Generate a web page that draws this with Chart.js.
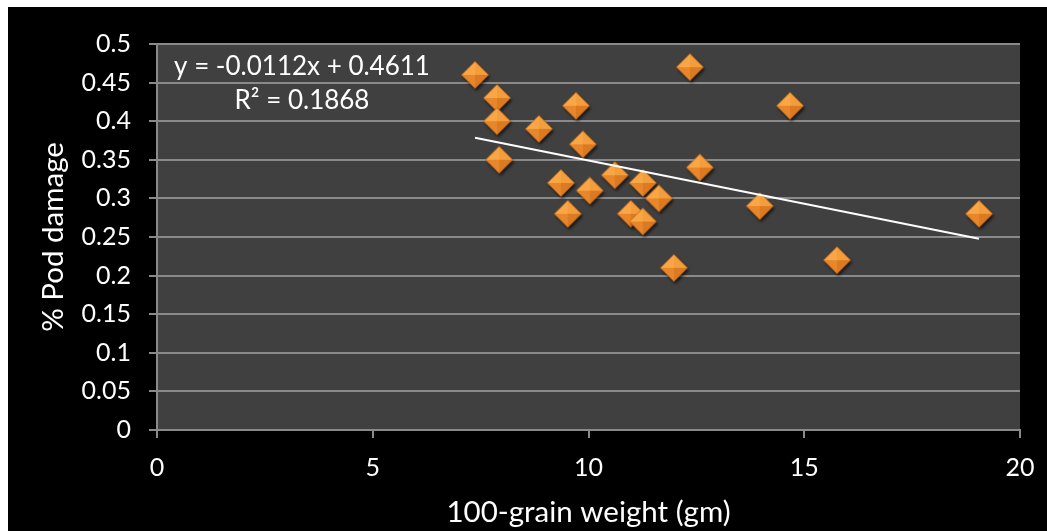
<!DOCTYPE html>
<html>
<head>
<meta charset="utf-8">
<script src="https://cdn.jsdelivr.net/npm/chart.js@4.4.1/dist/chart.umd.min.js"></script>
<style>
  html, body { margin: 0; padding: 0; background: #ffffff; width: 1047px; height: 531px; overflow: hidden; }
  #wrap { position: absolute; left: 8px; top: 7px; width: 1039px; height: 524px; background: #000000; }
  canvas { display: block; }
</style>
</head>
<body>
<div id="wrap"><canvas id="c" width="1039" height="524"></canvas></div>
<script>
// ---- data ----
const grainWeight = [7.37, 7.88, 7.88, 7.93, 8.85, 9.71, 9.87, 9.36, 9.52, 10.03, 10.61,
                     11.26, 10.98, 11.26, 11.63, 11.98, 12.35, 12.58, 13.97, 14.67, 15.76, 19.05];
const podDamage   = [0.46, 0.43, 0.40, 0.35, 0.39, 0.42, 0.37, 0.32, 0.28, 0.31, 0.33,
                     0.32, 0.28, 0.27, 0.30, 0.21, 0.47, 0.34, 0.29, 0.42, 0.22, 0.28];
const trendSlope = -0.0112;
const trendIntercept = 0.4611;
const trendLabels = ['y = -0.0112x + 0.4611', 'R\u00B2 = 0.1868'];
const xTitle = '100-grain weight (gm)';
const yTitle = '% Pod damage';
const yTickLabels = ['0', '0.05', '0.1', '0.15', '0.2', '0.25', '0.3', '0.35', '0.4', '0.45', '0.5'];

const FONT = 'Lato';
const scatterPoints = grainWeight.map((x, i) => ({ x: x, y: podDamage[i] }));
const xMin = Math.min(...grainWeight), xMax = Math.max(...grainWeight);
const trendPoints = [xMin, xMax].map(x => ({ x: x, y: trendSlope * x + trendIntercept }));

function makeMarker() {
  const s = 36, c = document.createElement('canvas');
  c.width = s; c.height = s;
  const g = c.getContext('2d');
  const cx = s / 2, cy = s / 2, r = 13.5;
  function path() {
    g.beginPath();
    g.moveTo(cx, cy - r); g.lineTo(cx + r, cy); g.lineTo(cx, cy + r); g.lineTo(cx - r, cy); g.closePath();
  }
  g.save();
  g.shadowColor = 'rgba(0,0,0,0.65)'; g.shadowBlur = 3; g.shadowOffsetX = 1.5; g.shadowOffsetY = 2.5;
  path(); g.fillStyle = '#d7761f'; g.fill();
  g.restore();
  const facets = [
    [[cx - r, cy], [cx, cy - r], '#f8a646'],
    [[cx, cy - r], [cx + r, cy], '#f49d3c'],
    [[cx + r, cy], [cx, cy + r], '#db7a21'],
    [[cx, cy + r], [cx - r, cy], '#e7862b']
  ];
  facets.forEach(f => {
    g.beginPath(); g.moveTo(cx, cy); g.lineTo(f[0][0], f[0][1]); g.lineTo(f[1][0], f[1][1]); g.closePath();
    g.fillStyle = f[2]; g.fill();
  });
  path(); g.strokeStyle = 'rgba(170,85,15,0.6)'; g.lineWidth = 1; g.stroke();
  return c;
}
const marker = makeMarker();

const bgPlugin = {
  id: 'plotBg',
  beforeDraw(chart) {
    const a = chart.chartArea, ctx = chart.ctx;
    ctx.save(); ctx.fillStyle = '#404040';
    ctx.fillRect(a.left, a.top, a.right - a.left, a.bottom - a.top);
    ctx.restore();
  }
};
const labelPlugin = {
  id: 'trendLabel',
  afterDraw(chart) {
    const a = chart.chartArea, ctx = chart.ctx;
    ctx.save();
    ctx.fillStyle = '#ffffff'; ctx.font = '26px ' + FONT;
    ctx.textAlign = 'center'; ctx.textBaseline = 'middle';
    ctx.fillText(trendLabels[0], a.left + 145, a.top + 23);
    ctx.fillText(trendLabels[1], a.left + 145, a.top + 57);
    ctx.restore();
  }
};

new Chart(document.getElementById('c'), {
  type: 'scatter',
  data: {
    datasets: [
      { type: 'line', data: trendPoints, borderColor: '#ffffff', borderWidth: 2, pointRadius: 0, fill: false, order: 0 },
      { data: scatterPoints, pointStyle: marker, pointRadius: 14, order: 1 }
    ]
  },
  options: {
    responsive: false, animation: false, devicePixelRatio: 1,
    layout: { padding: { top: 37, right: 27, left: 0, bottom: 0 } },
    plugins: { legend: { display: false }, tooltip: { enabled: false } },
    scales: {
      x: {
        type: 'linear', min: 0, max: 20,
        afterFit(s) { s.height = 101; s.paddingLeft = 0; s.paddingRight = 0; },
        ticks: { stepSize: 5, color: '#ffffff', font: { family: FONT, size: 25 }, padding: 15 },
        grid: { drawOnChartArea: false, drawTicks: true, tickLength: 8, color: '#8a8a8a', lineWidth: 2 },
        border: { color: '#8a8a8a', width: 2 },
        title: { display: true, text: xTitle, color: '#ffffff', font: { family: FONT, size: 29.5 }, padding: { top: 0, bottom: 1 } }
      },
      y: {
        type: 'linear', min: 0, max: 0.5,
        afterFit(s) { s.width = 149; s.paddingTop = 0; s.paddingBottom = 0; },
        ticks: { stepSize: 0.05, color: '#ffffff', font: { family: FONT, size: 25 }, padding: 18,
                 callback: (v, i) => yTickLabels[i] },
        grid: { drawTicks: true, tickLength: 8, color: '#8a8a8a', lineWidth: 2 },
        border: { color: '#8a8a8a', width: 2 },
        title: { display: true, text: yTitle, color: '#ffffff', font: { family: FONT, size: 29.5 }, padding: { top: 28, bottom: 0 } }
      }
    }
  },
  plugins: [bgPlugin, labelPlugin]
});
</script>
</body>
</html>
